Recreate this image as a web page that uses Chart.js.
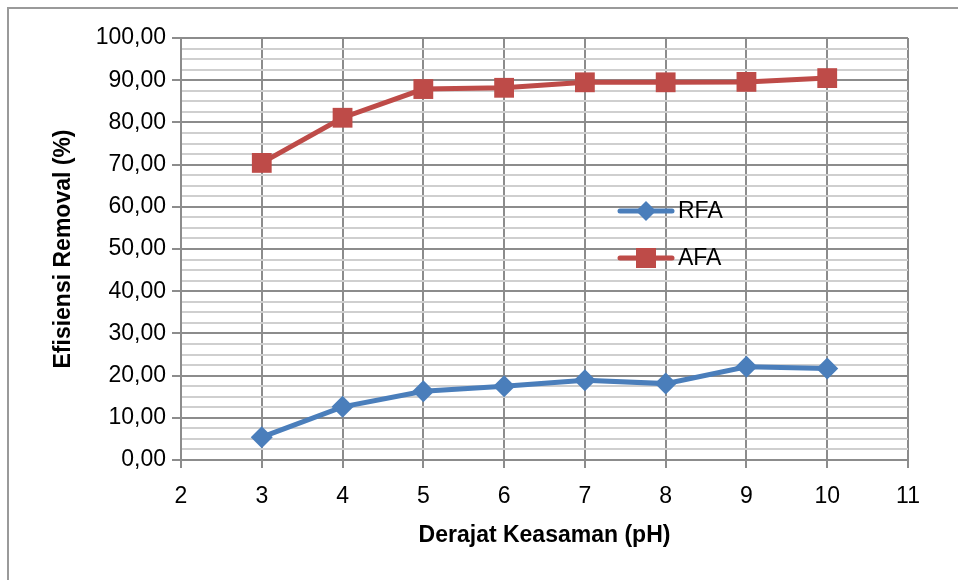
<!DOCTYPE html>
<html><head><meta charset="utf-8">
<script src="https://cdn.jsdelivr.net/npm/chart.js@4/dist/chart.umd.min.js"></script>
<style>html,body{margin:0;padding:0;background:#fff}#wrap{width:958px;height:580px;position:relative}</style>
</head><body><div id="wrap"><canvas id="c" width="958" height="580"></canvas></div>
<script>
const phValues = [3, 4, 5, 6, 7, 8, 9, 10];
const rfaValues = [5.4, 12.6, 16.3, 17.5, 18.9, 18.1, 22.1, 21.7];
const afaValues = [70.4, 81.1, 87.9, 88.2, 89.5, 89.5, 89.6, 90.5];
const seriesNames = ['RFA', 'AFA'];
const xTitle = 'Derajat Keasaman (pH)';
const yTitle = 'Efisiensi Removal (%)';

const FONT = "'Liberation Sans', Arial, sans-serif";
const fmt = v => v.toFixed(2).replace('.', ',');
const toPts = vals => phValues.map((x, i) => ({x: x, y: vals[i]}));

const frame = {
  id: 'frame',
  beforeDraw(chart) {
    const c = chart.ctx;
    c.save();
    c.fillStyle = '#fff';
    c.fillRect(0, 0, chart.width, chart.height);
    c.strokeStyle = '#9a9a9a';
    c.lineWidth = 2;
    c.beginPath();
    c.moveTo(8, 580); c.lineTo(8, 8); c.lineTo(958, 8);
    c.stroke();
    c.restore();
  }
};

const legendIn = {
  id: 'legendIn',
  afterDatasetsDraw(chart) {
    const c = chart.ctx;
    const ys = [211, 258];
    chart.data.datasets.forEach((ds, i) => {
      const y = ys[i];
      c.save();
      c.strokeStyle = ds.borderColor;
      c.lineWidth = ds.borderWidth;
      c.lineCap = 'round';
      c.beginPath(); c.moveTo(620, y); c.lineTo(672, y); c.stroke();
      c.fillStyle = ds.pointBackgroundColor;
      const cx = 646;
      if (ds.pointStyle === 'rect') {
        c.fillRect(cx - 10, y - 10, 20, 20);
      } else {
        c.beginPath();
        c.moveTo(cx, y - 10); c.lineTo(cx + 10, y); c.lineTo(cx, y + 10); c.lineTo(cx - 10, y);
        c.closePath(); c.fill();
      }
      c.fillStyle = '#000';
      c.font = '23px ' + FONT;
      c.textBaseline = 'middle';
      c.textAlign = 'left';
      c.fillText(ds.label, 678, y + 1);
      c.restore();
    });
  }
};

new Chart(document.getElementById('c'), {
  type: 'line',
  data: {
    datasets: [
      {
        label: seriesNames[0], data: toPts(rfaValues),
        borderColor: '#4A7EBB', backgroundColor: '#4A7EBB',
        pointBackgroundColor: '#4A7EBB', pointBorderColor: '#4A7EBB',
        borderWidth: 5, pointStyle: 'rectRot', pointRadius: 11, pointBorderWidth: 0,
        tension: 0
      },
      {
        label: seriesNames[1], data: toPts(afaValues),
        borderColor: '#BE4B48', backgroundColor: '#BE4B48',
        pointBackgroundColor: '#BE4B48', pointBorderColor: '#BE4B48',
        borderWidth: 5, pointStyle: 'rect', pointRadius: 14, pointBorderWidth: 0,
        tension: 0
      }
    ]
  },
  options: {
    responsive: false,
    devicePixelRatio: 1,
    animation: false,
    layout: {padding: {left: 50, right: 50, top: 38, bottom: 31}},
    plugins: {legend: {display: false}, tooltip: {enabled: false}},
    scales: {
      x: {
        type: 'linear', min: 2, max: 11,
        ticks: {stepSize: 1, color: '#000', font: {family: FONT, size: 23}, padding: 15},
        grid: {color: '#8c8c8c', lineWidth: 2, tickLength: 8, tickColor: '#8c8c8c'},
        border: {color: '#8c8c8c', width: 2},
        title: {display: true, text: xTitle, color: '#000', font: {family: FONT, size: 23, weight: 'bold'}, padding: 0},
        afterFit(s) { s.height = 89; }
      },
      y: {
        min: 0, max: 100,
        ticks: {stepSize: 2.5, autoSkip: false, color: '#000', font: {family: FONT, size: 23}, padding: 6,
          callback: v => (Math.abs(v % 10) < 1e-6 ? fmt(v) : '')},
        grid: {
          color: c => (Math.abs(c.tick.value % 10) < 1e-6 ? '#8c8c8c' : '#cfcfcf'),
          tickColor: c => (Math.abs(c.tick.value % 10) < 1e-6 ? '#8c8c8c' : 'rgba(0,0,0,0)'),
          lineWidth: 2, tickLength: 9
        },
        border: {color: '#8c8c8c', width: 2},
        title: {display: true, text: yTitle, color: '#000', font: {family: FONT, size: 23, weight: 'bold'}, padding: 0},
        afterFit(s) { s.width = 181 - 50; }
      }
    }
  },
  plugins: [frame, legendIn]
});
</script></body></html>
